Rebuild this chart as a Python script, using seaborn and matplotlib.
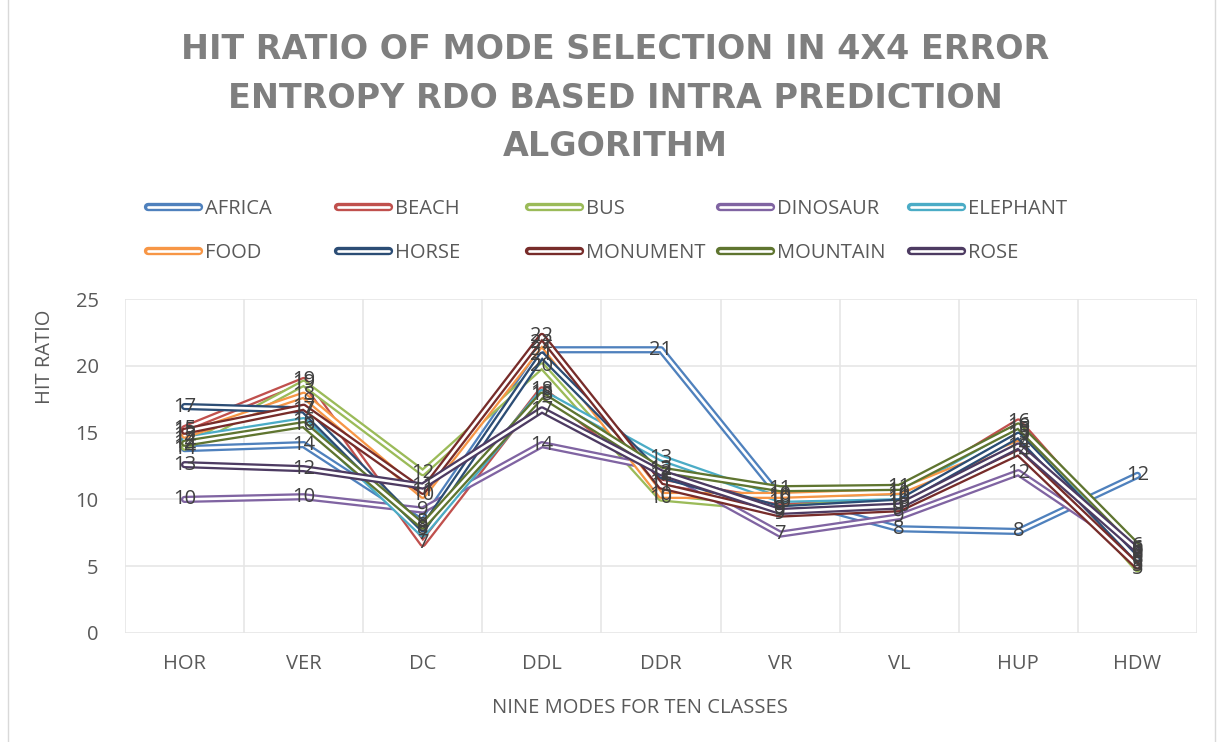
import matplotlib
matplotlib.use("Agg")
import matplotlib.pyplot as plt
import matplotlib.patheffects as pe
from matplotlib.lines import Line2D
from matplotlib.patches import Rectangle
import numpy as np
import pandas as pd
import seaborn as sns

# modes on the x axis
modes = ["HOR", "VER", "DC", "DDL", "DDR", "VR", "VL", "HUP", "HDW"]

# hit ratio per class
africa = [13.8, 14.1, 8.3, 21.2, 21.2, 10.2, 7.8, 7.6, 11.8]
beach = [15.3, 18.9, 6.7, 18.2, 11.3, 9.8, 10.4, 15.8, 5.8]
bus = [13.9, 18.7, 12.0, 20.0, 10.1, 9.3, 10.0, 15.0, 4.8]
dinosaur = [10.0, 10.2, 9.2, 14.1, 12.3, 7.4, 8.7, 12.0, 6.0]
elephant = [14.5, 15.9, 7.4, 18.0, 13.1, 10.0, 10.2, 15.2, 6.3]
food = [14.8, 17.8, 10.3, 21.7, 10.3, 10.3, 10.6, 14.2, 5.2]
horse = [16.95, 16.7, 7.8, 20.8, 11.8, 9.3, 9.8, 14.8, 5.5]
monument = [15.1, 16.9, 10.6, 22.2, 11.0, 8.9, 9.3, 13.5, 5.0]
mountain = [14.2, 15.6, 8.0, 17.8, 12.2, 10.8, 10.9, 15.5, 6.5]
rose = [12.6, 12.3, 11.0, 16.7, 12.0, 9.1, 9.5, 14.0, 6.2]

classes = ["AFRICA", "BEACH", "BUS", "DINOSAUR", "ELEPHANT",
           "FOOD", "HORSE", "MONUMENT", "MOUNTAIN", "ROSE"]
series = [africa, beach, bus, dinosaur, elephant, food, horse, monument, mountain, rose]
colors = ["#4F81BD", "#C0504D", "#9BBB59", "#8064A2", "#4BACC6",
          "#F79646", "#2C4D75", "#772C2A", "#5F7530", "#4D3B62"]

df = pd.DataFrame({
    "mode": modes * len(classes),
    "pos": list(range(len(modes))) * len(classes),
    "cls": [c for c in classes for _ in modes],
    "ratio": [v for s in series for v in s],
})

sns.set_style("white")
plt.rcParams['font.family'] = ['Open Sans', 'DejaVu Sans']

fig = plt.figure(figsize=(12.18, 7.42), dpi=100)
W, H = 1218, 742
ax = fig.add_axes([125 / W, 1 - 633 / H, (1197 - 125) / W, (633 - 299) / H])

outer, inner = 5.2, 1.9
for cls, col in zip(classes, colors):
    sub = df[df["cls"] == cls]
    sns.lineplot(data=sub, x="pos", y="ratio", ax=ax, color="white", lw=inner,
                 path_effects=[pe.Stroke(linewidth=outer, foreground=col), pe.Normal()],
                 legend=False)

# data labels centred on each point
for cls in classes:
    sub = df[df["cls"] == cls]
    for p, v in zip(sub["pos"], sub["ratio"]):
        ax.text(p, v, f"{v:.0f}", ha="center", va="center", fontsize=14.5, color="#404040")

ax.set_xlim(-0.5, len(modes) - 0.5)
ax.set_ylim(0, 25)
ax.set_yticks(np.arange(0, 26, 5))
ax.set_xticks(range(len(modes)))
ax.set_xticklabels(modes)
ax.set_xticks(np.arange(-0.5, len(modes), 1), minor=True)
ax.grid(False)
ax.grid(True, which="minor", axis="x", color="#E6E6E6", lw=1.2)
ax.grid(True, which="major", axis="y", color="#E6E6E6", lw=1.2)
ax.tick_params(axis="both", which="both", length=0, labelsize=14.5, colors="#595959")
ax.tick_params(axis="y", pad=19)
ax.tick_params(axis="x", pad=15)
ax.set_xlabel("")
ax.set_ylabel("")
for s in ax.spines.values():
    s.set_visible(False)
ax.set_axisbelow(True)

fig.text(615 / W, 1 - 98 / H, "HIT RATIO OF MODE SELECTION IN 4X4 ERROR\nENTROPY RDO BASED INTRA PREDICTION\nALGORITHM",
         ha="center", va="center", fontsize=24, fontweight="bold", color="#7F7F7F",
         linespacing=1.6, family=["DejaVu Sans"])
fig.text(45 / W, 1 - 357 / H, "HIT RATIO", rotation=90, ha="center", va="center", fontsize=14.5, color="#595959")
fig.text(640 / W, 1 - 708 / H, "NINE MODES FOR TEN CLASSES", ha="center", va="center", fontsize=14.5, color="#595959")

# legend: one entry each, Excel style grid
col_x = [148, 338, 529, 720, 911]
row_y = [209, 253]
for i, (cls, col) in enumerate(zip(classes, colors)):
    h = Line2D([], [], color="white", lw=inner,
               path_effects=[pe.Stroke(linewidth=outer + 0.8, foreground=col), pe.Normal()])
    fig.legend([h], [cls], loc="center left",
               bbox_to_anchor=(col_x[i % 5] / W, 1 - row_y[i // 5] / H),
               frameon=False, fontsize=14.5, handlelength=2.55, handletextpad=0.3,
               borderpad=0, borderaxespad=0, labelcolor="#595959")

fig.add_artist(Rectangle((8 / W, -0.01), 1207 / W, 1.02, transform=fig.transFigure,
                         fill=False, ec="#D9D9D9", lw=1))

fig.savefig("out.png", dpi=100)
